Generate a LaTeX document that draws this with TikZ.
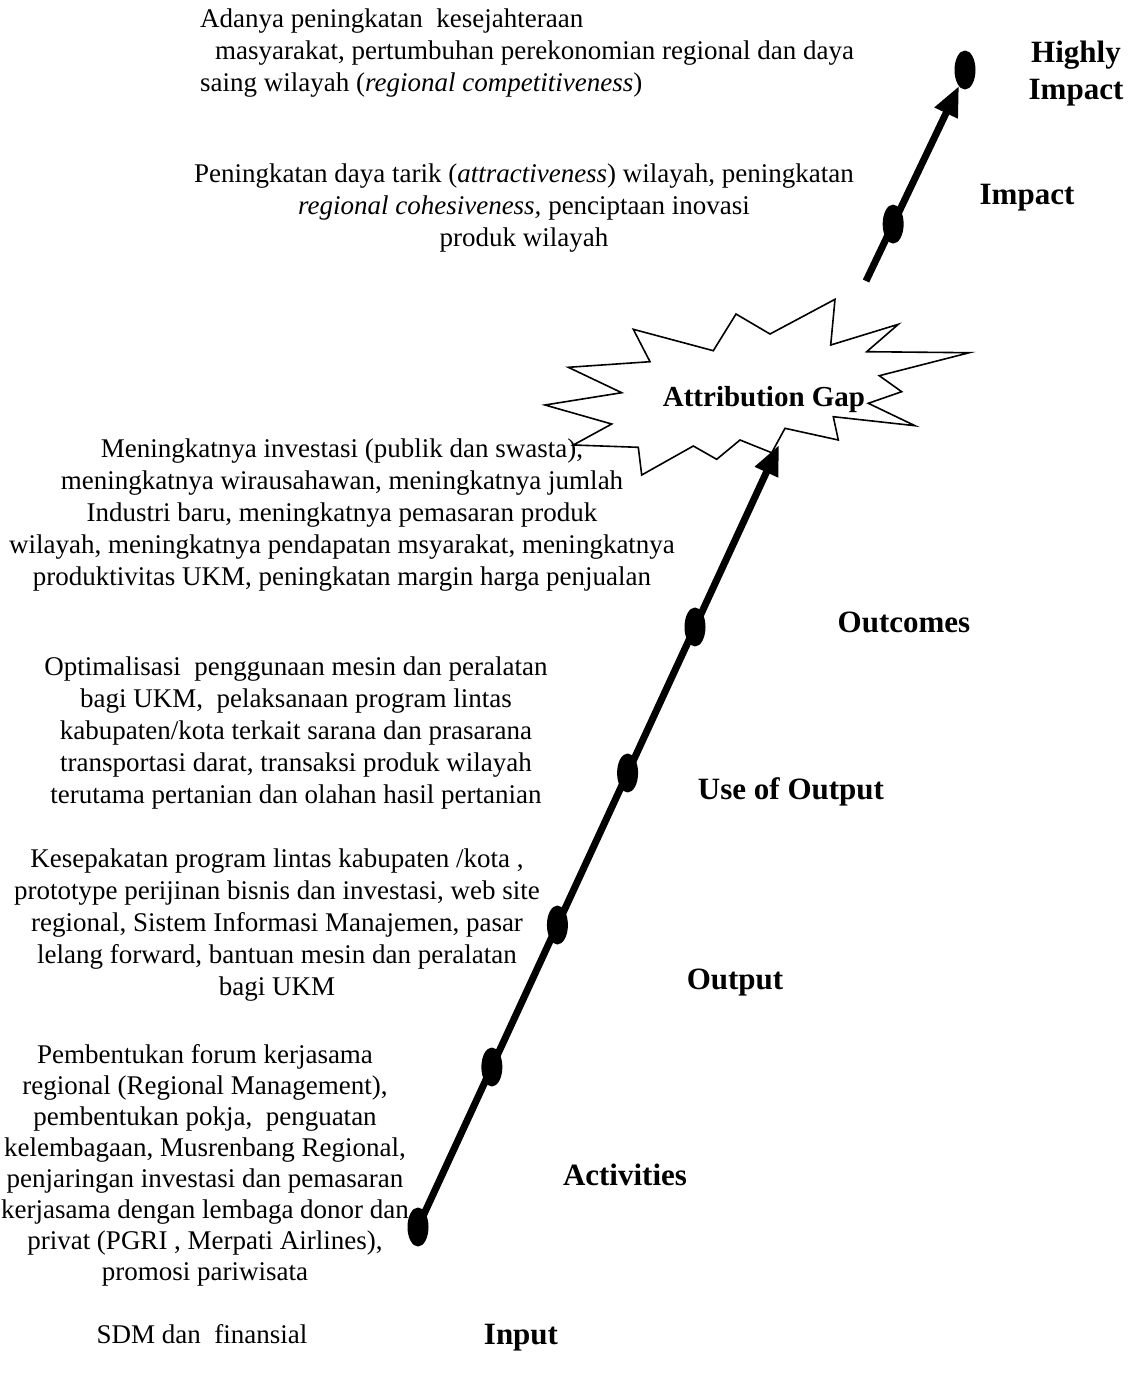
\documentclass[tikz,border=0pt]{standalone}
\usepackage{fontspec}
\setmainfont{Liberation Serif}
\usetikzlibrary{arrows.meta,shapes.geometric,calc}
\begin{document}
\begin{tikzpicture}[x=1pt,y=-1pt,
  body/.style={inner sep=0pt, align=center, font=\fontsize{27}{32}\selectfont},
  stage/.style={inner sep=0pt, align=center, font=\fontsize{31}{37}\selectfont\bfseries},
  dot/.style={ellipse, fill=black, minimum width=21pt, minimum height=39pt, inner sep=0pt},
  flow/.style={line width=7pt, -{Triangle[length=30pt,width=24pt]}},
  burst/.style={line width=1.6pt, fill=white, line join=miter}
]
\useasboundingbox (0,0) rectangle (1132,1385);

% attribution gap burst
\draw[burst] (568.3,367.3) -- (650,361.7) -- (633.3,329.3) -- (713.3,350.7)
  -- (736,314) -- (770,334) -- (835,299.3) -- (830.7,345) -- (898.3,324.3)
  -- (866.7,351.7) -- (969.3,352.7) -- (879.3,375.7) -- (901.7,391.7)
  -- (868.3,403.3) -- (915,425.7) -- (833.3,416.7) -- (838.3,440)
  -- (785,428.3) -- (771.7,452.7) -- (740,440) -- (716.7,459.3)
  -- (693.3,446) -- (641.7,475) -- (638.3,447.3) -- (573.3,445)
  -- (611.7,424) -- (545,405) -- (621.7,392.7) -- cycle;
\node[inner sep=0pt, font=\fontsize{29}{34}\selectfont\bfseries] (gap) at (764,400) {Attribution Gap};

% lower chain: input to outcomes
\coordinate (base) at (418,1227);
\coordinate (tipA) at (779,445);
\node[dot] (d0) at (base) {};
\node[dot] (d1) at ($(base)!0.2046!(tipA)$) {};
\node[dot] (d2) at ($(base)!0.3862!(tipA)$) {};
\node[dot] (d3) at ($(base)!0.5806!(tipA)$) {};
\node[dot] (d4) at ($(base)!0.7673!(tipA)$) {};
\draw[flow] (d0.center) -- (tipA);

% upper chain: impact to highly impact
\coordinate (startB) at (866,281);
\coordinate (tipB) at (959,86);
\node[dot] (d5) at ($(startB)!0.292!(tipB)$) {};
\node[dot] (d6) at (965,70) {};
\draw[flow] (startB) -- (tipB);

% stage labels
\node[stage] (hi) at (1076,74) {Highly\\Impact};
\node[stage] (imp) at (1027,198) {Impact};
\node[stage] (outc) at (904,622) {Outcomes};
\node[stage] (use) at (791,792) {Use of Output};
\node[stage] (outp) at (735,983) {Output};
\node[stage] (act) at (625,1175) {Activities};
\node[stage] (inp) at (521,1338) {Input};

% descriptions
\node[body, align=left, anchor=west] (t1) at (200,53)
  {Adanya peningkatan\ \ kesejahteraan\\
   \hspace*{15pt}masyarakat, pertumbuhan perekonomian regional dan daya\\
   saing wilayah (\textit{regional competitiveness})};
\node[body] (t2) at (524,208)
  {Peningkatan daya tarik (\textit{attractiveness}) wilayah, peningkatan\\
   \textit{regional cohesiveness,} penciptaan inovasi\\
   produk wilayah};
\node[body] (t3) at (342,515)
  {Meningkatnya investasi (publik dan swasta),\\
   meningkatnya wirausahawan, meningkatnya jumlah\\
   Industri baru, meningkatnya pemasaran produk\\
   wilayah, meningkatnya pendapatan msyarakat, meningkatnya\\
   produktivitas UKM, peningkatan margin harga penjualan};
\node[body] (t4) at (296,733)
  {Optimalisasi\ \ penggunaan mesin dan peralatan\\
   bagi UKM,\ \ pelaksanaan program lintas\\
   kabupaten/kota terkait sarana dan prasarana\\
   transportasi darat, transaksi produk wilayah\\
   terutama pertanian dan olahan hasil pertanian};
\node[body] (t5) at (277,925)
  {Kesepakatan program lintas kabupaten /kota ,\\
   prototype perijinan bisnis dan investasi, web site\\
   regional, Sistem Informasi Manajemen, pasar\\
   lelang forward, bantuan mesin dan peralatan\\
   bagi UKM};
\node[body, font=\fontsize{27}{31}\selectfont] (t6) at (205,1165)
  {Pembentukan forum kerjasama\\
   regional (Regional Management),\\
   pembentukan pokja,\ \ penguatan\\
   kelembagaan, Musrenbang Regional,\\
   penjaringan investasi dan pemasaran\\
   kerjasama dengan lembaga donor dan\\
   privat (PGRI , Merpati Airlines),\\
   promosi pariwisata};
\node[body] (t7) at (202,1334) {SDM dan\ \ finansial};
\end{tikzpicture}
\end{document}
